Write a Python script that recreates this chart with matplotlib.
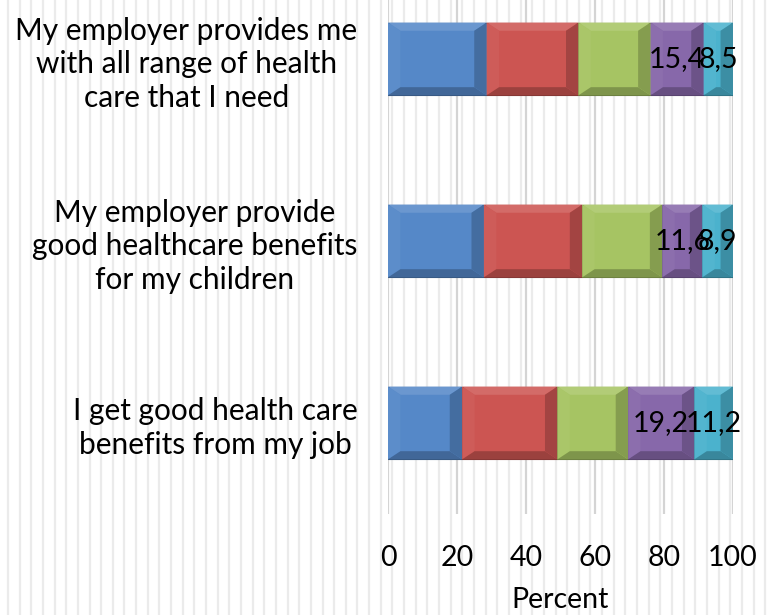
import numpy as np
import matplotlib
matplotlib.use("Agg")
import matplotlib.pyplot as plt
from matplotlib.lines import Line2D
from matplotlib.colors import to_rgb

categories = ["I get good health care\nbenefits from my job",
              "My employer provide\ngood healthcare benefits\nfor my children",
              "My employer provides me\nwith all range of health\ncare that I need"]
blue = [21.5, 27.8, 28.6]
red = [27.6, 28.5, 26.6]
green = [20.5, 23.2, 20.9]
purple = [19.2, 11.6, 15.4]
cyan = [11.2, 8.9, 8.5]
xticks = [0, 20, 40, 60, 80, 100]

plt.rcParams['font.family'] = ['Lato', 'DejaVu Sans']


def mix(c, other, t):
    c = np.array(to_rgb(c))
    return tuple(c * (1 - t) + np.array(other) * t)


fig = plt.figure(figsize=(7.74, 6.15), dpi=100)
fig.patch.set_facecolor('white')

# striped background like the original picture
W, H = 774, 615
for xp in np.arange(8, W, 11.65):
    fig.add_artist(Line2D([xp / W, xp / W], [0, 1], transform=fig.transFigure,
                          color='#ebebeb', lw=1.6, zorder=0))

ax = fig.add_axes([388 / W, 1 - 514 / H, (733 - 388) / W, 514 / H])
ax.set_facecolor('none')

ind = np.arange(len(categories))
series = [blue, red, green, purple, cyan]
colors = ['#5588c8', '#cc5552', '#a6c463', '#8768aa', '#4bb2cd']
bh = 0.4
dx, dy = 3.6, 0.045   # bevel size in data units
left = np.zeros(len(categories))
for k, (vals, c) in enumerate(zip(series, colors)):
    vals = np.array(vals)
    ax.barh(ind, vals, height=bh, left=left, color=c, edgecolor=mix(c, (0, 0, 0), 0.4),
            lw=0.8, zorder=3)
    for i, v in enumerate(vals):
        l, r = left[i], left[i] + v
        t, b = ind[i] + bh / 2, ind[i] - bh / 2
        ddx = min(dx, v / 2 - 0.3)
        ax.fill([l, r, r - ddx, l + ddx], [t, t, t - dy, t - dy],
                color=mix(c, (1, 1, 1), 0.13), lw=0, zorder=4)
        ax.fill([l, l + ddx, l + ddx, l], [t, t - dy, b + dy, b],
                color=mix(c, (1, 1, 1), 0.04), lw=0, zorder=4)
        ax.fill([l, r, r - ddx, l + ddx], [b, b, b + dy, b + dy],
                color=mix(c, (0, 0, 0), 0.24), lw=0, zorder=4)
        ax.fill([r, r - ddx, r - ddx, r], [t, t - dy, b + dy, b],
                color=mix(c, (0, 0, 0), 0.2), lw=0, zorder=4)
        if k >= 3:
            ax.text(l + v / 2, ind[i], ('%.1f' % v).replace('.', ','),
                    ha='center', va='center', fontsize=20.5, color='black', zorder=5)
    left = left + vals

ax.set_xlim(0, 100)
ax.set_ylim(-0.5, 2.324)
ax.set_xticks(xticks)
ax.set_xticklabels([str(t) for t in xticks], fontsize=20.5)
ax.set_yticks(ind)
ax.set_yticklabels(categories, fontsize=21.5, multialignment='center', linespacing=1.25)
ax.tick_params(axis='both', length=0)
ax.tick_params(axis='y', pad=22)
ax.tick_params(axis='x', pad=22)
for s in ax.spines.values():
    s.set_visible(False)
ax.grid(axis='x', color='#d4d4d4', lw=1.6, zorder=1)
ax.set_xlabel('Percent', fontsize=20.5, labelpad=12)

fig.savefig('out.png', dpi=100)
